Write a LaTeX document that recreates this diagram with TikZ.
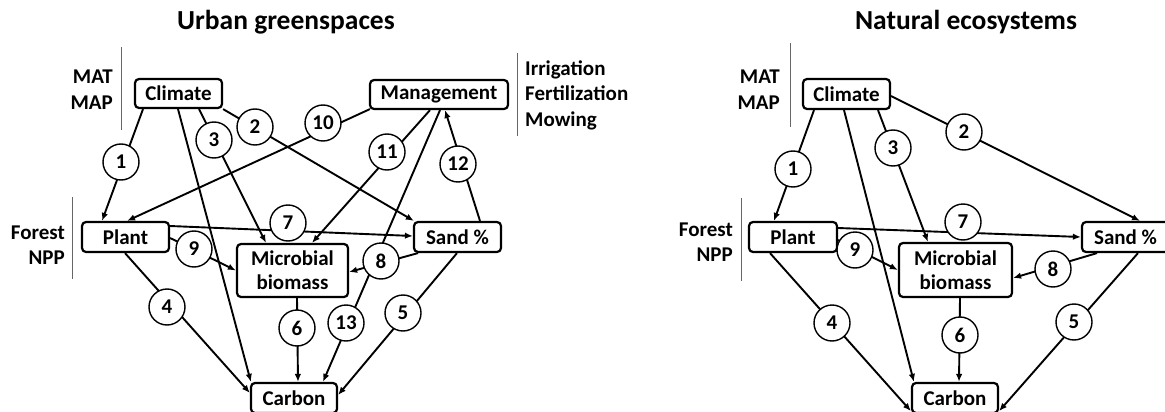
\documentclass[tikz,border=0pt]{standalone}
\usepackage{fontspec}
\setmainfont{Carlito}
\usetikzlibrary{arrows.meta}
\tikzset{
  boxn/.style={draw, line width=2.2pt, rounded corners=4pt, fill=white, inner sep=0pt, font=\fontsize{21}{22}\selectfont\bfseries, align=center},
  numc/.style={draw, circle, line width=1.4pt, fill=white, minimum size=36pt, inner sep=0pt, font=\fontsize{21}{22}\selectfont\bfseries},
  edge/.style={line width=1.9pt},
  arr/.style={edge, -{Latex[length=8pt,width=6.5pt]}},
  side/.style={font=\fontsize{21}{25.5}\selectfont\bfseries, inner sep=0pt},
  sep/.style={draw=black!60, line width=0.9pt},
  ttl/.style={font=\fontsize{27.5}{30}\selectfont\bfseries, inner sep=0pt}
}
\begin{document}
\begin{tikzpicture}[x=1pt,y=-1pt]
\useasboundingbox (0,0) rectangle (1165,412);
\begin{scope}
\clip (0,0) rectangle (1165,412);
% titles
\node[ttl] (t1) at (286,22) {Urban greenspaces};
\node[ttl] (t2) at (966,22) {Natural ecosystems};

% ---------- left diagram ----------
\node[boxn, minimum width=87pt, minimum height=29pt] (climL) at (178.5,93.5) {Climate};
\node[boxn, minimum width=138pt, minimum height=29pt] (mgmt) at (439,94.5) {Management};
\node[boxn, minimum width=87pt, minimum height=30pt] (plantL) at (125.5,237) {Plant};
\node[boxn, minimum width=87pt, minimum height=30pt] (sandL) at (457.5,237) {Sand \%};
\node[boxn, minimum width=111pt, minimum height=53pt, font=\fontsize{21}{24}\selectfont\bfseries] (microL) at (292.5,270.5) {Microbial\\biomass};
\node[boxn, minimum width=86pt, minimum height=30pt] (carbL) at (294,398) {Carbon};

\node[side, anchor=east, align=right] (matL) at (113,89.5) {MAT\\MAP};
\node[side, anchor=west, align=left] (irr) at (525,95) {Irrigation\\Fertilization\\Mowing};
\node[side, anchor=east, align=right] (forL) at (65,245) {Forest\\NPP};
\coordinate (s1a) at (121,47); \coordinate (s1b) at (121,130);
\coordinate (s2a) at (517,53); \coordinate (s2b) at (517,136);
\coordinate (s3a) at (72,197); \coordinate (s3b) at (72,279);
\draw[sep] (s1a) -- (s1b);
\draw[sep] (s2a) -- (s2b);
\draw[sep] (s3a) -- (s3b);

\draw[arr] ([xshift=-35.5pt]climL.south) -- ([xshift=-23.5pt]plantL.north);
\draw[arr] ([xshift=-0.5pt]climL.south) -- ([xshift=1pt]carbL.north west);
\draw[arr] ([xshift=20.5pt]climL.south) -- ([xshift=-26.5pt]microL.north);
\draw[arr] (climL.south east) -- ([xshift=1pt]sandL.north west);
\draw[arr] ([xshift=1pt,yshift=1pt]mgmt.south west) -- ([xshift=1.5pt]plantL.north);
\draw[arr] ([xshift=-9pt]mgmt.south) -- ([xshift=19.5pt]microL.north);
\draw[arr] ([xshift=1pt]mgmt.south) -- ([xshift=29pt]carbL.north);
\draw[arr] ([xshift=22.5pt]sandL.north) -- ([xshift=6pt]mgmt.south);
\draw[arr] ([yshift=11pt]plantL.east) -- ([yshift=1pt]sandL.west);
\draw[arr] ([yshift=-1pt]plantL.east) -- (microL.west);
\draw[arr] ([xshift=-39.5pt]sandL.south) -- ([yshift=-1.5pt]microL.east);
\draw[arr] ([xshift=-0.5pt]plantL.south) -- ([yshift=5pt]carbL.west);
\draw[arr] ([xshift=4.5pt]microL.south) -- ([xshift=4pt]carbL.north);
\draw[arr] ([xshift=-0.5pt]sandL.south) -- ([yshift=3pt]carbL.east);

\node[numc] (c1) at (121,162) {1};
\node[numc] (c2) at (255,127) {2};
\node[numc] (c3) at (214,140) {3};
\node[numc] (c10) at (323,123) {10};
\node[numc] (c11) at (387,152) {11};
\node[numc] (c12) at (458,164) {12};
\node[numc] (c7) at (288,223) {7};
\node[numc] (c9) at (194,249) {9};
\node[numc] (c8) at (381,261) {8};
\node[numc] (c4) at (167,307) {4};
\node[numc] (c6) at (297,328) {6};
\node[numc] (c13) at (346,323) {13};
\node[numc] (c5) at (403,313) {5};

% ---------- right diagram ----------
\node[boxn, minimum width=87pt, minimum height=30pt] (climR) at (846.5,94) {Climate};
\node[boxn, minimum width=88pt, minimum height=30pt] (plantR) at (793,237) {Plant};
\node[boxn, minimum width=87pt, minimum height=30pt] (sandR) at (1125.5,237) {Sand \%};
\node[boxn, minimum width=113pt, minimum height=54pt, font=\fontsize{21}{24}\selectfont\bfseries] (microR) at (955.5,270) {Microbial\\biomass};
\node[boxn, minimum width=86pt, minimum height=30pt] (carbR) at (955,398) {Carbon};

\node[side, anchor=east, align=right] (matR) at (780,89.5) {MAT\\MAP};
\node[side, anchor=east, align=right] (forR) at (733,242) {Forest\\NPP};
\coordinate (s4a) at (790,43); \coordinate (s4b) at (790,127);
\coordinate (s5a) at (741,198); \coordinate (s5b) at (741,281);
\draw[sep] (s4a) -- (s4b);
\draw[sep] (s5a) -- (s5b);

\draw[arr] ([xshift=-32.5pt]climR.south) -- ([xshift=-19pt]plantR.north);
\draw[arr] ([xshift=-2.5pt]climR.south) -- ([xshift=3pt]carbR.north west);
\draw[arr] ([xshift=31.5pt]climR.south) -- ([xshift=-27.5pt]microR.north);
\draw[arr] ([yshift=-2pt]climR.east) -- ([xshift=14.5pt]sandR.north);
\draw[arr] ([yshift=9pt]plantR.east) -- (sandR.west);
\draw[arr] ([yshift=-3pt]plantR.east) -- (microR.west);
\draw[arr] ([xshift=-28.5pt]sandR.south) -- ([yshift=-8pt]microR.east);
\draw[arr] ([xshift=-23pt]plantR.south) -- ([yshift=3pt]carbR.south west);
\draw[arr] ([xshift=4.5pt]microR.south) -- ([xshift=4pt]carbR.north);
\draw[arr] ([xshift=12.5pt]sandR.south) -- ([yshift=3pt]carbR.south east);

\node[numc] (r1) at (793,169) {1};
\node[numc] (r2) at (964,132) {2};
\node[numc] (r3) at (893,148) {3};
\node[numc] (r7) at (963,222) {7};
\node[numc] (r9) at (855,250) {9};
\node[numc] (r8) at (1053,269) {8};
\node[numc] (r4) at (832,323) {4};
\node[numc] (r6) at (960,335) {6};
\node[numc] (r5) at (1074,322) {5};
\end{scope}
\end{tikzpicture}
\end{document}
